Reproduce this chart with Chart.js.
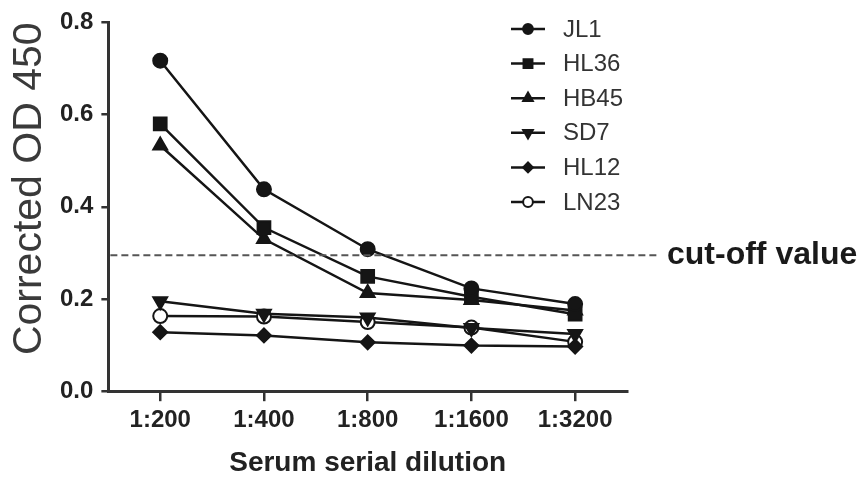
<!DOCTYPE html>
<html lang="en">
<head>
    <meta charset="UTF-8">
    <title>Corrected OD 450 vs serum dilution</title>
    <script src="https://cdn.jsdelivr.net/npm/chart.js"></script>
    <style>
        body { margin: 0; background: #fff; }
        #wrap { width: 860px; height: 477px; }
    </style>
</head>
<body>
    <div id="wrap">
        <canvas id="myChart"></canvas>
    </div>

    <script>
        // values
        var dilutions = ['1:200', '1:400', '1:800', '1:1600', '1:3200'];
        var jl1  = [0.717, 0.438, 0.308, 0.223, 0.189];
        var hl36 = [0.580, 0.355, 0.249, 0.205, 0.167];
        var hb45 = [0.533, 0.330, 0.213, 0.198, 0.175];
        var sd7  = [0.195, 0.168, 0.160, 0.137, 0.124];
        var hl12 = [0.128, 0.121, 0.106, 0.099, 0.097];
        var ln23 = [0.163, 0.162, 0.150, 0.138, 0.107];
        var cutoff = 0.295;
        var yTicks = [0, 0.2, 0.4, 0.6, 0.8];

        var ink = '#151515';

        function series(label, data, style, radius, rotation, fill) {
            return {
                label: label,
                data: data,
                borderColor: ink,
                borderWidth: 2.5,
                pointStyle: style,
                pointRadius: radius,
                pointRotation: rotation || 0,
                pointBackgroundColor: fill || ink,
                pointBorderColor: ink,
                pointBorderWidth: 2,
                fill: false,
                tension: 0
            };
        }

        var datasets = [
            series('JL1', jl1, 'circle', 7),
            series('HL36', hl36, 'rect', 9),
            series('HB45', hb45, 'triangle', 8),
            series('SD7', sd7, 'triangle', 8, 180),
            series('HL12', hl12, 'rectRot', 7),
            series('LN23', ln23, 'circle', 7, 0, '#fff')
        ];

        // dashed cut-off line plus its label, and the legend inside the plot
        var extras = {
            id: 'extras',
            afterDraw: function(chart) {
                var ctx = chart.ctx;
                var y = chart.scales.y.getPixelForValue(cutoff);
                var left = chart.chartArea.left;
                ctx.save();
                ctx.strokeStyle = '#555';
                ctx.lineWidth = 2;
                ctx.setLineDash([7, 4]);
                ctx.beginPath();
                ctx.moveTo(left + 2, y);
                ctx.lineTo(660, y);
                ctx.stroke();
                ctx.setLineDash([]);
                ctx.fillStyle = '#1a1a1a';
                ctx.font = 'bold 32px "Liberation Sans", Arial, sans-serif';
                ctx.textBaseline = 'middle';
                ctx.textAlign = 'left';
                ctx.fillText('cut-off value', 667, y);

                // legend
                ctx.font = '24px "Liberation Sans", Arial, sans-serif';
                chart.data.datasets.forEach(function(ds, i) {
                    var ly = 29 + i * 34.6;
                    ctx.strokeStyle = ink;
                    ctx.lineWidth = 2.5;
                    ctx.beginPath();
                    ctx.moveTo(511, ly);
                    ctx.lineTo(545, ly);
                    ctx.stroke();
                    ctx.fillStyle = ds.pointBackgroundColor;
                    ctx.strokeStyle = ink;
                    ctx.lineWidth = 2;
                    Chart.helpers.drawPoint(ctx, {
                        pointStyle: ds.pointStyle,
                        radius: ds.pointRadius * 0.7,
                        rotation: ds.pointRotation,
                        borderWidth: 2
                    }, 528, ly);
                    ctx.fillStyle = '#333';
                    ctx.fillText(ds.label, 563, ly + 1);
                });
                ctx.restore();
            }
        };

        var ctx = document.getElementById('myChart').getContext('2d');
        var myChart = new Chart(ctx, {
            type: 'line',
            data: {
                labels: dilutions,
                datasets: datasets
            },
            options: {
                responsive: true,
                maintainAspectRatio: false,
                animation: false,
                events: [],
                layout: {
                    padding: { left: 4, right: 233, top: 15, bottom: 0 }
                },
                plugins: {
                    legend: { display: false },
                    tooltip: { enabled: false }
                },
                scales: {
                    x: {
                        offset: true,
                        grid: {
                            display: true,
                            drawOnChartArea: false,
                            drawTicks: true,
                            tickLength: 10,
                            color: '#333',
                            lineWidth: 2.5,
                            offset: false
                        },
                        border: { display: true, color: '#333', width: 3 },
                        ticks: {
                            color: '#222',
                            padding: 5,
                            font: { family: '"Liberation Sans", Arial, sans-serif', size: 24, weight: 'bold' }
                        },
                        title: {
                            display: true,
                            text: 'Serum serial dilution',
                            color: '#222',
                            padding: { top: 9, bottom: 0 },
                            font: { family: '"Liberation Sans", Arial, sans-serif', size: 28, weight: 'bold', lineHeight: 1.0 }
                        }
                    },
                    y: {
                        min: 0,
                        max: 0.8,
                        afterBuildTicks: function(scale) {
                            scale.ticks = yTicks.map(function(v) { return { value: v }; });
                        },
                        grid: {
                            display: true,
                            drawOnChartArea: false,
                            drawTicks: true,
                            tickLength: 7,
                            color: '#333',
                            lineWidth: 2.5
                        },
                        border: { display: true, color: '#333', width: 3 },
                        ticks: {
                            color: '#222',
                            padding: 8,
                            callback: function(v) { return Number(v).toFixed(1); },
                            font: { family: '"Liberation Sans", Arial, sans-serif', size: 24, weight: 'bold' }
                        },
                        title: {
                            display: true,
                            align: 'end',
                            text: 'Corrected OD 450',
                            color: '#3a3a3a',
                            padding: { top: 5, bottom: 2 },
                            font: { family: '"Liberation Sans", Arial, sans-serif', size: 41, lineHeight: 1.0 }
                        }
                    }
                }
            },
            plugins: [extras]
        });
    </script>
</body>
</html>
